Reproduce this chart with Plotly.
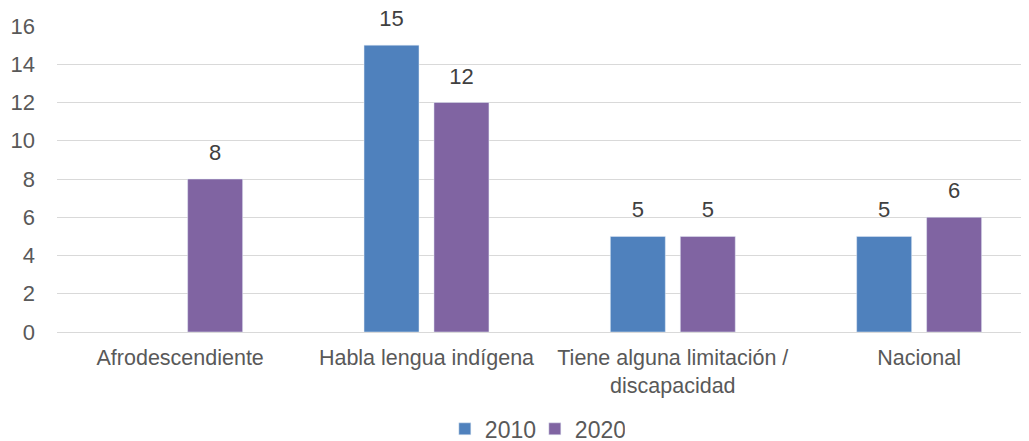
import plotly.graph_objects as go

categories = ["Afrodescendiente", "Habla lengua indígena", "Tiene alguna limitación /<br>discapacidad", "Nacional"]
values_2010 = [None, 15, 5, 5]
values_2020 = [8, 12, 5, 6]
series_names = ["2010", "2020"]
colors = ["#4f81bd", "#8064a2"]

def labels(vals):
    return ["" if v is None else str(v) for v in vals]

fig = go.Figure()
for i, (name, vals, col) in enumerate(zip(series_names, [values_2010, values_2020], colors)):
    fig.add_trace(go.Bar(
        x=categories, y=vals, name=name, marker_color=col, offsetgroup=str(i),
    ))
for i, (name, vals) in enumerate(zip(series_names, [values_2010, values_2020])):
    fig.add_trace(go.Scatter(
        x=categories, y=vals, mode="markers+text", offsetgroup=str(i),
        marker=dict(size=20, opacity=0), text=labels(vals), textposition="top center",
        textfont=dict(size=22, color="#404040"), showlegend=False, cliponaxis=False,
        hoverinfo="skip",
    ))

fig.update_layout(
    width=1021, height=433,
    margin=dict(l=49, r=0, t=18, b=109, autoexpand=False),
    paper_bgcolor="white", plot_bgcolor="white",
    barmode="group", bargap=0.432, bargroupgap=0.214,
    scattermode="group", scattergap=0.432,
    font=dict(family="Liberation Sans, Arial, sans-serif", color="#595959", size=20),
    legend=dict(orientation="h", x=0.516, xanchor="center", xref="container",
                y=0.028, yanchor="middle", yref="container", entrywidth=45,
                font=dict(size=23, color="#595959"), itemwidth=30, traceorder="normal"),
    yaxis=dict(range=[0, 16], dtick=2, showgrid=True, gridcolor="#d9d9d9", gridwidth=1,
               zeroline=False, tickfont=dict(size=22, color="#595959"), ticks="", ticklen=0,
               showline=False, automargin=False, ticklabelstandoff=21),
    xaxis=dict(showline=True, linecolor="#d9d9d9", linewidth=1, ticks="",
               range=[-0.5, 3.446],
               tickfont=dict(size=21.5, color="#595959"), automargin=False,
               ticklabelstandoff=6),
)
fig.write_html("out.html")
